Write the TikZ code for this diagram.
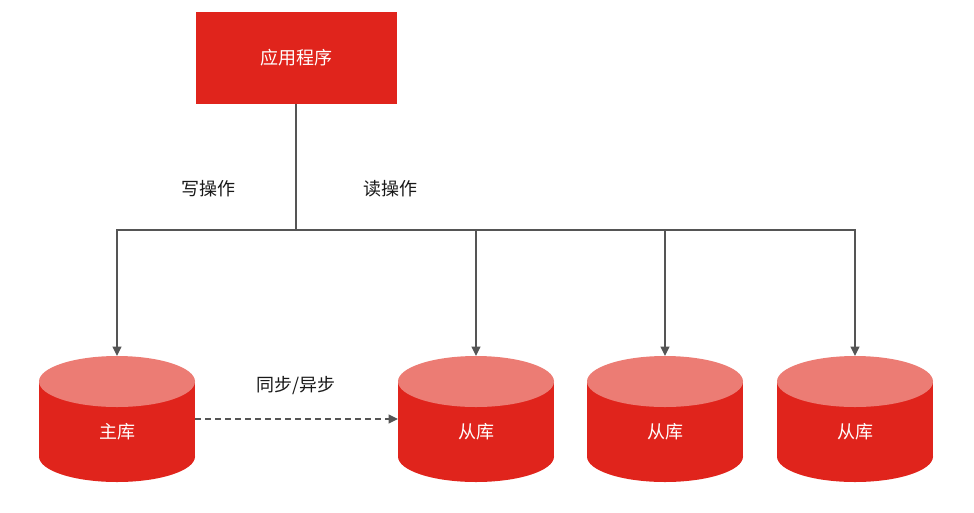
\documentclass[tikz,border=0pt]{standalone}
\usepackage{fontspec}
\setmainfont{Noto Sans CJK SC}
\usetikzlibrary{arrows.meta}
\definecolor{dbred}{HTML}{E0241C}
\definecolor{dblight}{HTML}{EC7C74}
\definecolor{lngray}{HTML}{555555}
\begin{document}
\begin{tikzpicture}[x=1pt,y=-1pt,
  lbl/.style={font=\fontsize{18}{20}\selectfont,text=black!90},
  wlbl/.style={font=\fontsize{18}{20}\selectfont,text=white},
  conn/.style={draw=lngray,line width=1.4pt},
  arr/.style={conn,-{Triangle[length=9.5pt,width=9pt]}}]
\useasboundingbox (0,0) rectangle (974,512);
% application box
\node[fill=dbred,minimum width=201pt,minimum height=92pt,inner sep=0pt,wlbl] (app) at (296.5,58) {应用程序};
% cylinders
\foreach \cx/\nm/\txt in {117/m/主库,476/s1/从库,665/s2/从库,855/s3/从库}{
  \fill[dbred] (\cx,456.5) ellipse [x radius=78, y radius=25.5];
  \fill[dbred] (\cx-78,381.5) rectangle (\cx+78,456.5);
  \fill[dblight] (\cx,381.5) ellipse [x radius=78, y radius=25.5];
  \node[wlbl] (\nm) at (\cx,432) {\txt};
  \coordinate (\nm top) at (\cx,356);
  \coordinate (\nm left) at (\cx-78,419);
  \coordinate (\nm right) at (\cx+78,419);
}
\coordinate (j) at (296,230);
\draw[conn] (app.south -| j) -- (j);
\draw[arr] (j) -| (mtop);
\draw[arr] (j) -| (s1top);
\draw[arr] (j) -| (s2top);
\draw[arr] (j) -| (s3top);
\draw[arr,dash pattern=on 6pt off 4pt] (mright) -- (s1left);
\node[lbl] (w) at (208,189) {写操作};
\node[lbl] (r) at (390,189) {读操作};
\node[lbl] (sy) at (296,386) {同步/异步};
\end{tikzpicture}
\end{document}
